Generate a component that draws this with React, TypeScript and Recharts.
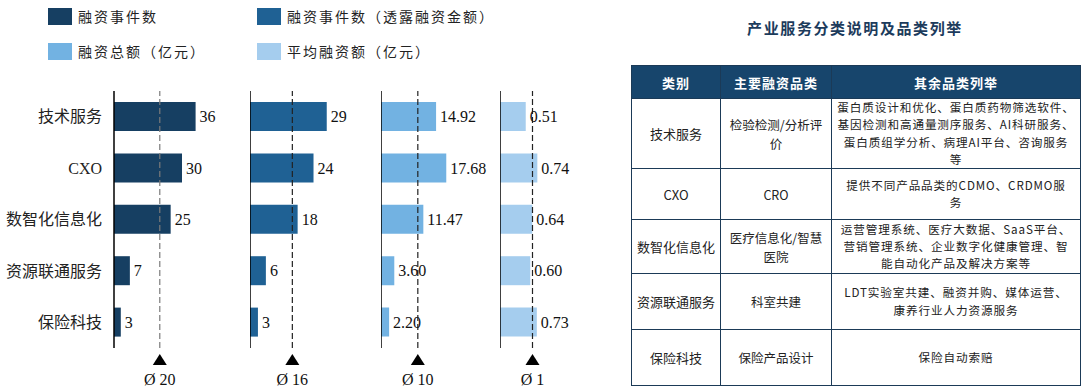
import { BarChart, Bar, XAxis, YAxis, ReferenceLine, LabelList } from "recharts";

const categories = ["技术服务", "CXO", "数智化信息化", "资源联通服务", "保险科技"];
const eventCounts = [36, 30, 25, 7, 3];
const disclosedCounts = [29, 24, 18, 6, 3];
const totalAmounts = [14.92, 17.68, 11.47, 3.6, 2.2];
const avgAmounts = [0.51, 0.74, 0.64, 0.6, 0.73];
const avgLabels = ["Ø 20", "Ø 16", "Ø 10", "Ø 1"];

const legendNames = ["融资事件数", "融资事件数（透露融资金额）", "融资总额（亿元）", "平均融资额（亿元）"];

const tableTitle = "产业服务分类说明及品类列举";
const tableHeader = ["类别", "主要融资品类", "其余品类列举"];
const tableCol1 = categories;
const tableCol2 = [["检验检测/分析评", "价"], ["CRO"], ["医疗信息化/智慧", "医院"], ["科室共建"], ["保险产品设计"]];
const tableCol3 = [
  ["蛋白质设计和优化、蛋白质药物筛选软件、", "基因检测和高通量测序服务、AI科研服务、", "蛋白质组学分析、病理AI平台、咨询服务", "等"],
  ["提供不同产品品类的CDMO、CRDMO服", "务"],
  ["运营管理系统、医疗大数据、SaaS平台、", "营销管理系统、企业数字化健康管理、智", "能自动化产品及解决方案等"],
  ["LDT实验室共建、融资并购、媒体运营、", "康养行业人力资源服务"],
  ["保险自动索赔"],
];

const SERIF = "'Liberation Serif', 'Noto Sans CJK SC', serif";
const CJK = "'Noto Sans CJK SC', sans-serif";
const colors = ["#163f62", "#1f6194", "#72b2e2", "#a5cdee"];

const data = categories.map((name, i) => ({
  name,
  events: eventCounts[i],
  disclosed: disclosedCounts[i],
  total: totalAmounts[i],
  avg: avgAmounts[i],
}));

const mean = (arr: number[]) => arr.reduce((a, b) => a + b, 0) / arr.length;

// each panel: its own little bar chart, scale set by domain max
const panels = [
  { key: "events", values: eventCounts, left: 0, width: 250, max: 60, digits: 0, refColor: "#7a7a7a" },
  { key: "disclosed", values: disclosedCounts, left: 250, width: 131, max: 49.5, digits: 0, refColor: "#222" },
  { key: "total", values: totalAmounts, left: 381, width: 118.5, max: 32.1, digits: 2, refColor: "#222" },
  { key: "avg", values: avgAmounts, left: 499.5, width: 110, max: 2.18, digits: 2, refColor: "#222" },
];

function AvgMarker({ viewBox, text }: { viewBox?: { x: number; y: number; height: number }; text: string }) {
  if (!viewBox) return null;
  const x = viewBox.x;
  const b = viewBox.y + viewBox.height;
  return (
    <g>
      <polygon points={`${x},${b + 6} ${x - 7},${b + 17} ${x + 7},${b + 17}`} fill="#000" />
      <text x={x} y={b + 37} textAnchor="middle" fontSize={16} fontFamily={SERIF} fill="#111">
        {text}
      </text>
    </g>
  );
}

function Panel({ idx }: { idx: number }) {
  const p = panels[idx];
  const first = idx === 0;
  return (
    <div style={{ position: "absolute", left: p.left, top: 0 }}>
      <BarChart
        width={p.width}
        height={389}
        data={data}
        layout="vertical"
        margin={{ top: 91, right: 0, bottom: 41, left: 0 }}
      >
        <XAxis type="number" domain={[0, p.max]} allowDataOverflow hide />
        <YAxis
          type="category"
          dataKey="name"
          hide={!first}
          width={114}
          axisLine={false}
          tickLine={false}
          tickSize={0}
          tickMargin={12}
          tick={{ fontSize: 16, fill: "#222", fontFamily: SERIF }}
        />
        <Bar dataKey={p.key} fill={colors[idx]} barSize={29} isAnimationActive={false}>
          <LabelList
            dataKey={p.key}
            position="right"
            offset={4}
            formatter={(v: number) => Number(v).toFixed(p.digits)}
            style={{ fontSize: 16, fill: "#111", fontFamily: SERIF }}
          />
        </Bar>
        <ReferenceLine x={0} stroke="#000" strokeWidth={1.5} />
        <ReferenceLine
          x={mean(p.values)}
          stroke={p.refColor}
          strokeWidth={1.2}
          strokeDasharray="6 3"
          label={<AvgMarker text={avgLabels[idx]} />}
        />
      </BarChart>
    </div>
  );
}

const legendPos = [
  { x: 48, y: 8 },
  { x: 257, y: 8 },
  { x: 48, y: 43 },
  { x: 257, y: 43 },
];

const rowHeights = [70, 51, 54, 56, 56];
const border = "1px solid #1b3a57";

export default function App() {
  return (
    <div style={{ position: "absolute", left: 0, top: 0, width: 1086, height: 389, background: "#fff", overflow: "hidden" }}>
      {legendNames.map((name, i) => (
        <div key={name} style={{ position: "absolute", left: legendPos[i].x, top: legendPos[i].y, display: "flex", alignItems: "center" }}>
          <div style={{ width: 24, height: 17, background: colors[i], marginRight: 6 }} />
          <span style={{ fontFamily: CJK, fontSize: 14, letterSpacing: 2, color: "#222", lineHeight: "17px" }}>{name}</span>
        </div>
      ))}

      {panels.map((_, i) => (
        <Panel key={i} idx={i} />
      ))}

      <div
        style={{
          position: "absolute",
          left: 747,
          top: 18,
          width: 216,
          textAlign: "center",
          fontFamily: CJK,
          fontWeight: 700,
          fontSize: 15,
          letterSpacing: 1.6,
          color: "#1c3b5c",
          lineHeight: "20px",
          whiteSpace: "nowrap",
        }}
      >
        {tableTitle}
      </div>

      <table
        style={{
          position: "absolute",
          left: 631,
          top: 65,
          width: 449,
          borderCollapse: "collapse",
          tableLayout: "fixed",
          fontFamily: CJK,
          color: "#222",
        }}
      >
        <colgroup>
          <col style={{ width: 89 }} />
          <col style={{ width: 111 }} />
          <col style={{ width: 249 }} />
        </colgroup>
        <thead>
          <tr style={{ height: 33, background: "#17456c" }}>
            {tableHeader.map((h) => (
              <th key={h} style={{ border, color: "#fff", fontSize: 13, fontWeight: 700, letterSpacing: 1, padding: 0 }}>
                {h}
              </th>
            ))}
          </tr>
        </thead>
        <tbody>
          {tableCol1.map((c, r) => (
            <tr key={c} style={{ height: rowHeights[r] }}>
              <td style={{ border, textAlign: "center", fontSize: 13, padding: 0, whiteSpace: "nowrap" }}>{c}</td>
              <td style={{ border, textAlign: "center", fontSize: 12.5, padding: 0, lineHeight: "19px" }}>
                {tableCol2[r].map((l) => (
                  <div key={l} style={{ whiteSpace: "nowrap" }}>{l}</div>
                ))}
              </td>
              <td style={{ border, textAlign: "center", fontSize: 11.6, letterSpacing: 0.9, padding: 0, lineHeight: "17.2px" }}>
                {tableCol3[r].map((l) => (
                  <div key={l} style={{ whiteSpace: "nowrap" }}>{l}</div>
                ))}
              </td>
            </tr>
          ))}
        </tbody>
      </table>
    </div>
  );
}
